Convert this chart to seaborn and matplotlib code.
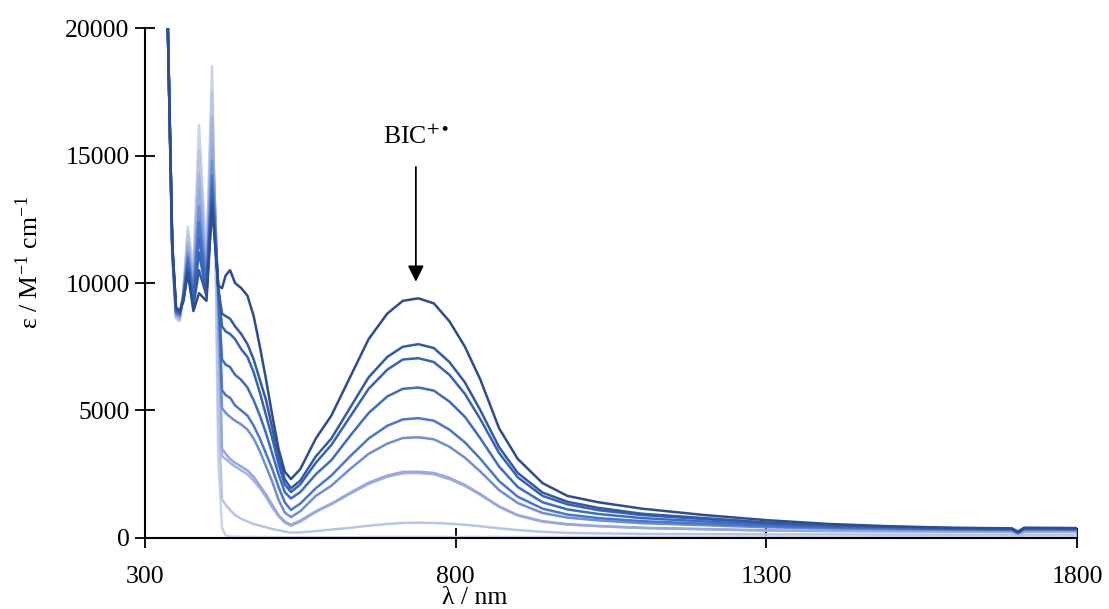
import matplotlib
matplotlib.use("Agg")
import matplotlib.pyplot as plt
import numpy as np
import pandas as pd
import seaborn as sns

# wavelength knots (nm)
wavelength = [336, 344, 350, 356, 362, 369, 378, 387, 399, 408, 413, 418, 424, 430, 437, 445,
              455, 465, 475, 485, 495, 505, 515, 525, 535, 550, 575, 600, 630, 660, 690, 715,
              740, 765, 790, 815, 840, 870, 900, 940, 980, 1030, 1100, 1200, 1300, 1400, 1500,
              1600, 1695, 1705, 1715, 1800]

# extinction coefficients (M-1 cm-1), lightest (start) -> darkest (end of titration)
eps_0 = [21000, 11000, 8600, 8500, 9800, 12200, 10600, 16200, 11000, 18500, 12000, 3000, 400, 100, 60, 50,
         40, 40, 40, 40, 40, 35, 35, 30, 30, 30, 30, 30, 30, 40, 40, 40,
         40, 40, 40, 40, 40, 40, 40, 40, 40, 40, 40, 40, 40, 40, 40,
         40, 40, 40, 40, 40]
eps_1 = [21000, 11100, 8650, 8550, 9700, 11900, 10400, 15200, 10800, 17500, 12500, 5000, 1500, 1300, 1100, 900,
         750, 650, 550, 480, 420, 350, 300, 250, 210, 220, 270, 330, 400, 480, 550, 590,
         600, 590, 560, 520, 460, 380, 310, 240, 200, 180, 160, 150, 140, 140, 130,
         130, 130, 90, 130, 130]
eps_2 = [21000, 11200, 8700, 8600, 9650, 11600, 10200, 14300, 10600, 16500, 12800, 8500, 3200, 3100, 2950, 2800,
         2650, 2500, 2250, 1950, 1600, 1200, 850, 600, 480, 640, 1020, 1320, 1730, 2120, 2400, 2540,
         2550, 2500, 2310, 2040, 1690, 1220, 880, 640, 530, 460, 390, 340, 290, 270, 260,
         250, 240, 160, 250, 250]
eps_3 = [21000, 11200, 8750, 8650, 9600, 11400, 10000, 13600, 10400, 15500, 13000, 9000, 3500, 3300, 3100, 2950,
         2800, 2650, 2400, 2050, 1700, 1300, 900, 650, 520, 680, 1050, 1350, 1770, 2170, 2450, 2590,
         2600, 2550, 2360, 2080, 1720, 1240, 900, 660, 540, 470, 400, 350, 300, 280, 270,
         260, 250, 160, 260, 260]
eps_4 = [21000, 11300, 8800, 8700, 9550, 11200, 9800, 13000, 10200, 14800, 12500, 9500, 5100, 4900, 4750, 4600,
         4450, 4250, 3900, 3400, 2800, 2200, 1500, 1000, 820, 1050, 1650, 2050, 2700, 3300, 3700, 3920,
         3950, 3870, 3580, 3150, 2600, 1880, 1370, 980, 800, 690, 580, 500, 420, 370, 340,
         320, 300, 190, 320, 310]
eps_5 = [21000, 11300, 8850, 8750, 9500, 11000, 9600, 12400, 10000, 14200, 12000, 9800, 5800, 5600, 5500, 5200,
         5000, 4800, 4400, 3900, 3300, 2700, 2000, 1400, 1100, 1350, 1950, 2450, 3200, 3900, 4400, 4650,
         4700, 4600, 4250, 3750, 3100, 2230, 1620, 1150, 920, 780, 660, 560, 460, 400, 370,
         340, 320, 200, 340, 330]
eps_6 = [21000, 11400, 8900, 8800, 9450, 10800, 9400, 11800, 9800, 13800, 12000, 9800, 7000, 6800, 6700, 6400,
         6200, 5900, 5400, 4800, 4100, 3300, 2500, 1800, 1550, 1800, 2500, 3050, 4000, 4900, 5550, 5850,
         5900, 5780, 5350, 4750, 3900, 2800, 2000, 1400, 1120, 940, 780, 650, 520, 440, 400,
         360, 340, 210, 360, 350]
eps_7 = [21000, 11400, 8950, 8800, 9400, 10600, 9300, 11200, 9600, 13400, 11800, 9800, 8300, 8100, 8000, 7800,
         7400, 7100, 6500, 5700, 4800, 3900, 2900, 2100, 1800, 2100, 2950, 3650, 4750, 5850, 6600, 7000,
         7050, 6900, 6400, 5650, 4650, 3330, 2380, 1650, 1320, 1090, 900, 740, 580, 480, 430,
         380, 360, 220, 380, 370]
eps_8 = [21000, 11500, 9000, 8850, 9350, 10500, 9100, 10500, 9500, 13200, 11500, 9800, 8800, 8700, 8600, 8300,
         8000, 7600, 7000, 6200, 5400, 4300, 3200, 2300, 1950, 2250, 3200, 3900, 5100, 6300, 7100, 7500,
         7600, 7450, 6900, 6100, 5000, 3560, 2550, 1780, 1420, 1180, 950, 780, 610, 500, 440,
         390, 370, 230, 390, 380]
eps_9 = [21000, 11500, 9050, 8900, 9300, 10400, 8900, 9600, 9300, 13000, 11500, 9900, 9800, 10300, 10500, 10000,
         9800, 9500, 8700, 7500, 6200, 4800, 3500, 2600, 2310, 2700, 3900, 4800, 6300, 7800, 8800, 9300,
         9400, 9200, 8500, 7500, 6200, 4300, 3100, 2150, 1650, 1400, 1150, 900, 700, 550, 460,
         400, 380, 250, 400, 390]

spectra = [eps_0, eps_1, eps_2, eps_3, eps_4, eps_5, eps_6, eps_7, eps_8, eps_9]
colors = ["#cbd3ec", "#b7c4e8", "#a2b3e0", "#97a9dc", "#6f8fd2", "#4a77cc",
          "#3e6cc2", "#3763b5", "#325aa6", "#2d4d8e"]

x_ticks = [300, 800, 1300, 1800]
y_ticks = [0, 5000, 10000, 15000, 20000]

frames = []
for idx, values in enumerate(spectra):
    frames.append(pd.DataFrame({"wl": wavelength, "eps": values, "curve": idx}))
df = pd.concat(frames, ignore_index=True)

sns.set_style("white")
plt.rcParams["font.family"] = ["Liberation Serif", "DejaVu Serif"]
plt.rcParams["mathtext.fontset"] = "stix"
plt.rcParams["text.color"] = "black"
plt.rcParams["axes.labelcolor"] = "black"

fig = plt.figure(figsize=(11.09, 6.09), dpi=100)
ax = fig.add_axes([0.1307, 0.1166, 0.8404, 0.8374])

sns.lineplot(data=df, x="wl", y="eps", hue="curve", palette=colors, sort=False,
             estimator=None, linewidth=1.8, legend=False, ax=ax)

ax.set_xlim(300, 1800)
ax.set_ylim(0, 20000)
ax.set_xticks(x_ticks)
ax.set_yticks(y_ticks)
ax.tick_params(axis="both", direction="inout", length=14, width=1.3,
               labelsize=18.5, colors="black", bottom=True, left=True)
ax.tick_params(axis="x", pad=13)
ax.tick_params(axis="y", pad=4)

for side in ["top", "right"]:
    ax.spines[side].set_visible(False)
for side in ["left", "bottom"]:
    ax.spines[side].set_color("black")
    ax.spines[side].set_linewidth(1.5)

ax.set_xlabel("λ / nm", fontsize=18.5)
ax.set_ylabel(r"ε / M$^{\mathregular{-1}}$ cm$^{\mathregular{-1}}$", fontsize=18.5)
ax.xaxis.set_label_coords(0.354, -0.097)
ax.yaxis.set_label_coords(-0.109, 0.54)

ax.annotate("", xy=(736, 10050), xytext=(736, 14550),
            arrowprops=dict(arrowstyle="-|>", color="black", lw=1.3,
                            mutation_scale=24, shrinkA=0, shrinkB=0))
ax.text(736, 15250, r"BIC$^{+\bullet}$", ha="center", va="bottom", fontsize=18.5)

fig.savefig("out.png", dpi=100)
